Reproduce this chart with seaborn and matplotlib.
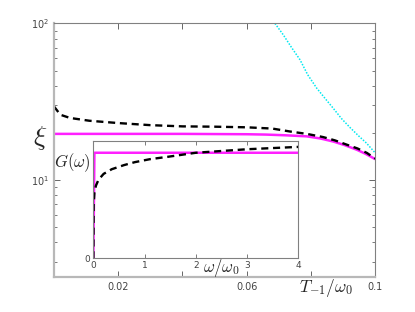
import numpy as np
import pandas as pd
import matplotlib
matplotlib.use("Agg")
import matplotlib.pyplot as plt
import seaborn as sns

# main panel: xi vs T_{-1}/omega_0
t_dash = [0.0, 0.002, 0.005, 0.011, 0.02, 0.03, 0.04, 0.05, 0.06, 0.068, 0.0735,
          0.0787, 0.0838, 0.0875, 0.0912, 0.0945, 0.0974, 0.1]
xi_dash = [29.5, 26.1, 24.9, 23.9, 23.1, 22.4, 22.0, 21.9, 21.7, 21.3, 20.4,
           19.7, 18.8, 17.9, 16.8, 15.9, 14.9, 13.7]

t_flat = [0.0, 0.02, 0.04, 0.06, 0.066, 0.072, 0.0787, 0.083, 0.087, 0.0905,
          0.0943, 0.097, 0.1]
xi_flat = [19.7, 19.7, 19.7, 19.6, 19.5, 19.3, 19.0, 18.4, 17.6, 16.7,
           15.6, 14.7, 13.6]

t_cyan = [0.0688, 0.0714, 0.074, 0.0766, 0.079, 0.0818, 0.0845, 0.0869,
          0.0895, 0.0922, 0.095, 0.0973, 0.1]
xi_cyan = [100, 84.5, 70, 58.6, 47, 38.6, 33, 28.8, 24.7, 21.6, 19.0, 17.2, 14.9]

# inset: G(omega)
w_dash = [0, 0.005, 0.02, 0.05, 0.1, 0.2, 0.36, 0.6, 0.81, 1.1, 1.46, 2.0,
          2.5, 3.0, 3.5, 4.0]
g_dash = [0, 0.45, 0.56, 0.62, 0.67, 0.72, 0.76, 0.795, 0.82, 0.845, 0.866,
          0.90, 0.915, 0.93, 0.94, 0.95]
w_flat = [0, 0.02, 4.0]
g_flat = [0, 0.90, 0.90]

sns.set_theme(style="ticks")
plt.rcParams["mathtext.fontset"] = "cm"
plt.rcParams["font.family"] = ["DejaVu Sans"]

fig = plt.figure(figsize=(4.15, 3.12), dpi=100)
ax = fig.add_axes([0.130, 0.112, 0.774, 0.813])

sns.lineplot(x=t_cyan, y=xi_cyan, ax=ax, color="#00e8f0", linewidth=1.1,
             sort=False, estimator=None)
ax.lines[-1].set_dashes((1, 1))
sns.lineplot(x=t_flat, y=xi_flat, ax=ax, color="#ff20ff", linewidth=1.8,
             sort=False, estimator=None)
sns.lineplot(x=t_dash, y=xi_dash, ax=ax, color="black", linewidth=1.7,
             sort=False, estimator=None)
ax.lines[-1].set_dashes((3, 2))

ax.set_yscale("log")
ax.set_xlim(0, 0.1)
ax.set_ylim(2.4, 100)
ax.set_xticks([0, 0.02, 0.04, 0.06, 0.08, 0.1])
ax.set_xticklabels(["", "0.02", "", "0.06", "", "0.1"])
ax.tick_params(which="both", direction="in", top=True, right=True,
               labelsize=7, labelcolor="#444444", color="#666666")
ax.tick_params(which="major", length=4, width=0.7)
ax.tick_params(which="minor", length=2.5, width=0.6)
for s in ["left", "bottom"]:
    ax.spines[s].set_color("#b8b8b8")
    ax.spines[s].set_linewidth(1.6)
for s in ["top", "right"]:
    ax.spines[s].set_color("#808080")
    ax.spines[s].set_linewidth(0.8)
ax.set_xlabel("")
ax.set_ylabel("")

# inset
ins = fig.add_axes([0.225, 0.172, 0.494, 0.376])
sns.lineplot(x=w_flat, y=g_flat, ax=ins, color="#ff20ff", linewidth=1.8,
             sort=False, estimator=None)
sns.lineplot(x=w_dash, y=g_dash, ax=ins, color="black", linewidth=1.7,
             sort=False, estimator=None)
ins.lines[-1].set_dashes((3, 2))
ins.set_xlim(0, 4)
ins.set_ylim(0, 1)
ins.set_xticks([0, 1, 2, 3, 4])
ins.set_yticks([0])
ins.tick_params(which="both", direction="in", top=True, labelsize=6.5,
                labelcolor="#444444", color="#666666", length=3, width=0.6,
                pad=2)
for s in ins.spines.values():
    s.set_color("#808080")
    s.set_linewidth(0.8)

fig.text(0.096, 0.558, r"$\xi$", fontsize=20, ha="center", va="center")
fig.text(0.220, 0.478, r"$G(\omega)$", fontsize=12, ha="right", va="center")
fig.text(0.532, 0.141, r"$\omega/\omega_0$", fontsize=12, ha="center", va="center")
fig.text(0.786, 0.077, r"$T_{-1}/\omega_0$", fontsize=12.5, ha="center", va="center")

fig.savefig("out.png", dpi=100)
